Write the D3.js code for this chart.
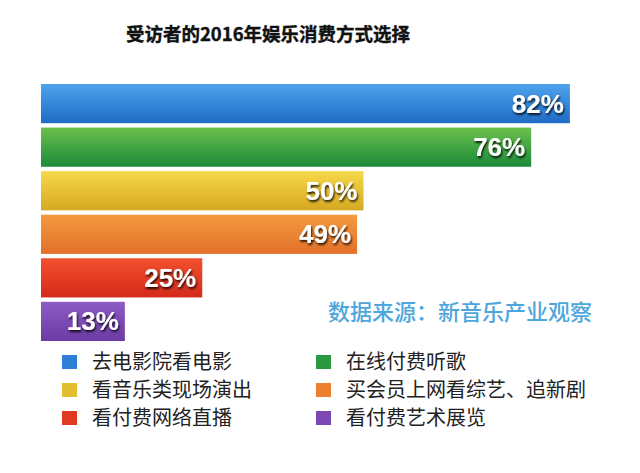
<!DOCTYPE html>
<html><head><meta charset="utf-8">
<script src="https://cdn.jsdelivr.net/npm/d3@7"></script>
<style>body{margin:0;background:#fff;}svg{display:block;}</style>
</head><body>
<script>
const categories = ["去电影院看电影","在线付费听歌","看音乐类现场演出","买会员上网看综艺、追新剧","看付费网络直播","看付费艺术展览"];
const values = [82, 76, 50, 49, 25, 13];
const colorsTop = ["#4ea2ec","#6cc04c","#f6d84a","#f39a40","#f2502e","#8d5cc4"];
const colorsBottom = ["#1e6cc6","#1a8a3a","#d6a822","#e2702a","#d42a1a","#6b3aa2"];
const legendColors = ["#2f7fd8","#2a9a40","#e2be30","#ec8030","#e03a22","#7a48b0"];
const title = "受访者的2016年娱乐消费方式选择";
const source = "数据来源：新音乐产业观察";

const W = 640, H = 473;
const svg = d3.select("body").append("svg").attr("width", W).attr("height", H);
const defs = svg.append("defs");
categories.forEach((c, i) => {
  const g = defs.append("linearGradient").attr("id", "g" + i).attr("x1", 0).attr("y1", 0).attr("x2", 0).attr("y2", 1);
  g.append("stop").attr("offset", "0%").attr("stop-color", colorsTop[i]);
  g.append("stop").attr("offset", "100%").attr("stop-color", colorsBottom[i]);
});
const f = defs.append("filter").attr("id", "sh").attr("x", "-20%").attr("y", "-20%").attr("width", "140%").attr("height", "160%");
f.append("feDropShadow").attr("dx", 1).attr("dy", 2).attr("stdDeviation", 1.2).attr("flood-color", "#000").attr("flood-opacity", 0.85);

svg.append("text").attr("x", 268).attr("y", 41).attr("text-anchor", "middle")
  .attr("font-family", "Noto Sans CJK SC, sans-serif").attr("font-weight", "bold").attr("font-size", 18.5)
  .attr("fill", "#111").attr("stroke", "#111").attr("stroke-width", 0.4).text(title);

const x = d3.scaleLinear().domain([0, 100]).range([41, 41 + 645]);
const y = d3.scaleBand().domain(categories).range([84, 341]).paddingInner(0.1).paddingOuter(0);

svg.selectAll("rect.bar").data(categories).join("rect").attr("class", "bar")
  .attr("x", x(0)).attr("y", d => y(d))
  .attr("width", (d, i) => x(values[i]) - x(0)).attr("height", y.bandwidth())
  .attr("fill", (d, i) => `url(#g${i})`);

svg.selectAll("text.lab").data(categories).join("text").attr("class", "lab")
  .attr("x", (d, i) => x(values[i]) - 6).attr("y", d => y(d) + y.bandwidth() / 2 + 9)
  .attr("text-anchor", "end").attr("font-family", "Liberation Sans, Arial, sans-serif")
  .attr("font-weight", "bold").attr("font-size", 26).attr("fill", "#fff")
  .attr("filter", "url(#sh)").text((d, i) => values[i] + "%");

svg.append("text").attr("x", 328).attr("y", 320)
  .attr("font-family", "Noto Sans CJK SC, sans-serif").attr("font-size", 22).attr("font-weight", 500)
  .attr("fill", "#4ea6dc").text(source);

const lg = svg.append("g");
categories.forEach((c, i) => {
  const col = i % 2, row = Math.floor(i / 2);
  const lx = col === 0 ? 62 : 316, ly = 355 + row * 28;
  lg.append("rect").attr("x", lx).attr("y", ly).attr("width", 15).attr("height", 14).attr("fill", legendColors[i]);
  lg.append("text").attr("x", lx + 30).attr("y", ly + 14)
    .attr("font-family", "Noto Sans CJK SC, sans-serif").attr("font-size", 20)
    .attr("fill", "#222").text(c);
});
</script>
</body></html>
